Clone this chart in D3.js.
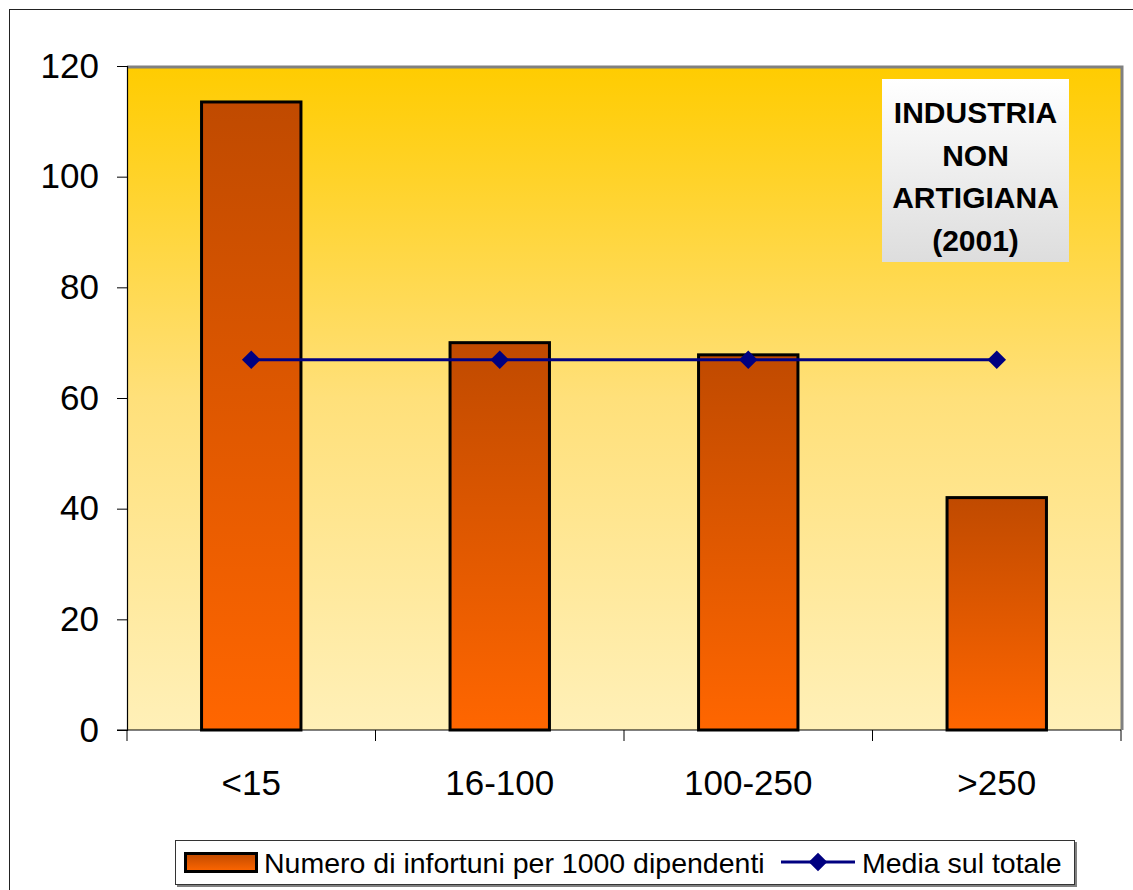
<!DOCTYPE html>
<html><head><meta charset="utf-8">
<script src="https://cdn.jsdelivr.net/npm/d3@7"></script>
<style>body{margin:0;background:#fff;}svg{display:block;font-family:Arial,"Liberation Sans",sans-serif;}</style>
</head><body>
<svg id="c" width="1133" height="890"></svg>
<script>
const categories = ["<15", "16-100", "100-250", ">250"];
const infortuni = [113.5, 70, 67.8, 42];
const media = [66.9, 66.9, 66.9, 66.9];
const yTicks = [0, 20, 40, 60, 80, 100, 120];
const titleLines = ["INDUSTRIA", "NON", "ARTIGIANA", "(2001)"];
const legendLabels = ["Numero di infortuni per 1000 dipendenti", "Media sul totale"];

const svg = d3.select("#c");
const defs = svg.append("defs");
const bg = defs.append("linearGradient").attr("id","bg").attr("x1",0).attr("y1",0).attr("x2",0).attr("y2",1);
bg.append("stop").attr("offset","0%").attr("stop-color","#FFCC00");
bg.append("stop").attr("offset","50%").attr("stop-color","#FFE07A");
bg.append("stop").attr("offset","100%").attr("stop-color","#FFF0B8");
const bar = defs.append("linearGradient").attr("id","bar").attr("x1",0).attr("y1",0).attr("x2",0).attr("y2",1);
bar.append("stop").attr("offset","0%").attr("stop-color","#C04A00");
bar.append("stop").attr("offset","100%").attr("stop-color","#FF6600");
const tb = defs.append("linearGradient").attr("id","tb").attr("x1",0).attr("y1",0).attr("x2",0).attr("y2",1);
tb.append("stop").attr("offset","0%").attr("stop-color","#FFFFFF");
tb.append("stop").attr("offset","100%").attr("stop-color","#DDDDDD");

// outer frame
svg.append("rect").attr("x",9.5).attr("y",9.5).attr("width",1140).attr("height",900)
  .attr("fill","none").attr("stroke","#222").attr("stroke-width",1);

const L = 127, R = 1121, T = 66, B = 730;
const x = d3.scaleBand().domain(categories).range([L, R]).paddingInner(0).paddingOuter(0);
const y = d3.scaleLinear().domain([0,120]).range([B, T]);

// plot area
svg.append("rect").attr("x",L).attr("y",T).attr("width",R-L).attr("height",B-T).attr("fill","url(#bg)");
svg.append("path").attr("d",`M${L},${T+1}H${R+1}V${B}`).attr("fill","none").attr("stroke","#808080").attr("stroke-width",3);

// bars
const bw = x.bandwidth()*0.4;
svg.append("g").selectAll("rect").data(infortuni).join("rect")
  .attr("x",(d,i)=>x(categories[i])+x.bandwidth()/2-bw/2)
  .attr("y",d=>y(d)).attr("width",bw).attr("height",d=>B-y(d))
  .attr("fill","url(#bar)").attr("stroke","#000").attr("stroke-width",3);

// axes
const yAxis = d3.axisLeft(y).tickValues(yTicks).tickSize(10).tickPadding(18);
const gy = svg.append("g").attr("transform",`translate(${L},0)`).call(yAxis);
gy.selectAll("text").attr("font-size",35).attr("fill","#000").attr("font-family","Arial, 'Liberation Sans', sans-serif");
gy.selectAll("line").attr("stroke","#000");
gy.select(".domain").attr("stroke","#000").attr("stroke-width",1.2);

const xTickPos = d3.range(categories.length+1).map(i=>L+i*x.bandwidth());
const gx = svg.append("g");
gx.append("line").attr("x1",L-10).attr("x2",R).attr("y1",B).attr("y2",B).attr("stroke","#000").attr("stroke-width",1.2);
gx.selectAll("line.t").data(xTickPos).join("line").attr("class","t")
  .attr("x1",d=>d).attr("x2",d=>d).attr("y1",B).attr("y2",B+11).attr("stroke","#000");
gx.selectAll("text").data(categories).join("text")
  .attr("x",d=>x(d)+x.bandwidth()/2).attr("y",795).attr("text-anchor","middle")
  .attr("font-size",35).attr("fill","#000").text(d=>d);

// media line
const line = d3.line().x((d,i)=>x(categories[i])+x.bandwidth()/2).y(d=>y(d));
svg.append("path").datum(media).attr("d",line).attr("fill","none").attr("stroke","#000080").attr("stroke-width",3);
const diamond = d3.symbol().type(d3.symbolDiamond2).size(220);
svg.append("g").selectAll("path").data(media).join("path")
  .attr("transform",(d,i)=>`translate(${x(categories[i])+x.bandwidth()/2},${y(d)})`)
  .attr("d",diamond).attr("fill","#000080");

// title box
svg.append("rect").attr("x",882).attr("y",79).attr("width",187).attr("height",183).attr("fill","url(#tb)");
svg.append("g").selectAll("text").data(titleLines).join("text")
  .attr("x",975.5).attr("y",(d,i)=>123+i*42.5).attr("text-anchor","middle")
  .attr("font-size",30).attr("font-weight","bold").attr("fill","#000").text(d=>d);

// legend
svg.append("rect").attr("x",177).attr("y",842).attr("width",900).attr("height",45).attr("fill","#808080");
svg.append("rect").attr("x",175.5).attr("y",840.5).attr("width",899).attr("height",44).attr("fill","#fff").attr("stroke","#333").attr("stroke-width",1);
svg.append("rect").attr("x",185.5).attr("y",853.5).attr("width",71).attr("height",18).attr("fill","url(#bar)").attr("stroke","#000").attr("stroke-width",3);
svg.append("text").attr("x",264).attr("y",873).attr("font-size",28.5).attr("fill","#000").text(legendLabels[0]);
svg.append("line").attr("x1",781).attr("x2",855).attr("y1",862).attr("y2",862).attr("stroke","#000080").attr("stroke-width",3);
svg.append("path").attr("transform","translate(818,862)").attr("d",diamond).attr("fill","#000080");
svg.append("text").attr("x",862).attr("y",873).attr("font-size",28.5).attr("fill","#000").text(legendLabels[1]);
</script>
</body></html>
